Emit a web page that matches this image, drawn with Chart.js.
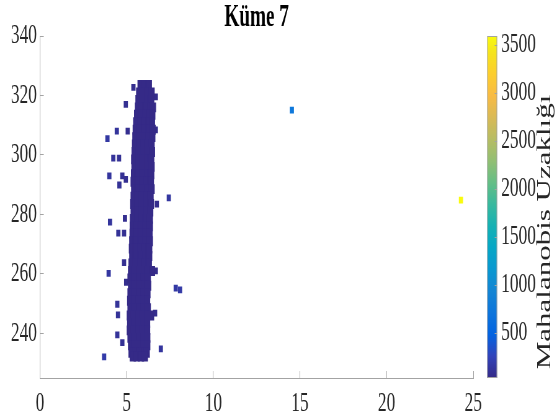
<!DOCTYPE html>
<html>
<head>
<meta charset="utf-8">
<script src="https://cdn.jsdelivr.net/npm/chart.js@4/dist/chart.umd.min.js"></script>
<style>
  html, body { margin: 0; padding: 0; background: #fff; }
  #c { display: block; width: 557px; height: 420px; }
</style>
</head>
<body>
<canvas id="c" width="898" height="420" style="width:557px;height:420px"></canvas>
<script>
// --- data ---
const chartTitle = 'Küme 7';
const cbLabel = 'Mahalanobis Uzaklığı';
const xTicks = [0, 5, 10, 15, 20, 25];
const yTicks = [240, 260, 280, 300, 320, 340];
const cbTicks = [500, 1000, 1500, 2000, 2500, 3000, 3500];
const cMin = 30, cMax = 3594;

// dense core of the cluster, one row of x values per y level
const coreY = [323.5, 321, 318.5, 316, 313.5, 311, 308.5, 306, 303.5, 301, 298.5, 296, 293.5,
  291, 288.5, 286, 283.5, 281, 278.5, 276, 273.5, 271, 268.5, 266, 263.5, 261, 258.5, 256,
  253.5, 251, 248.5, 246, 243.5, 241, 238.5, 236, 233.5, 232.2];
const coreX = [
  [5.8, 6.05, 6.28],
  [5.72, 5.95, 6.2, 6.44],
  [5.68, 5.92, 6.18, 6.42],
  [5.65, 5.88, 6.13, 6.36, 6.52],
  [5.6, 5.84, 6.1, 6.34, 6.48],
  [5.55, 5.8, 6.06, 6.3, 6.46],
  [5.52, 5.76, 6.02, 6.28, 6.5],
  [5.5, 5.74, 6.0, 6.26, 6.48],
  [5.48, 5.72, 5.98, 6.24, 6.44],
  [5.46, 5.7, 5.96, 6.22, 6.46],
  [5.43, 5.68, 5.94, 6.2, 6.42],
  [5.45, 5.68, 5.94, 6.2, 6.44],
  [5.42, 5.66, 5.92, 6.18, 6.42],
  [5.4, 5.64, 5.9, 6.16, 6.4],
  [5.43, 5.66, 5.92, 6.18, 6.44],
  [5.4, 5.63, 5.88, 6.14, 6.38],
  [5.38, 5.62, 5.88, 6.14, 6.4],
  [5.4, 5.63, 5.88, 6.14, 6.36],
  [5.36, 5.6, 5.86, 6.12, 6.34],
  [5.35, 5.58, 5.84, 6.1, 6.34],
  [5.34, 5.58, 5.84, 6.1, 6.32],
  [5.32, 5.56, 5.82, 6.08, 6.34],
  [5.3, 5.54, 5.8, 6.06, 6.3],
  [5.32, 5.56, 5.82, 6.08, 6.3],
  [5.28, 5.52, 5.78, 6.04, 6.28],
  [5.25, 5.48, 5.74, 6.0, 6.24, 6.46],
  [5.22, 5.46, 5.72, 5.98, 6.22],
  [5.25, 5.48, 5.74, 6.0, 6.24],
  [5.22, 5.46, 5.72, 5.98, 6.2],
  [5.2, 5.44, 5.7, 5.96, 6.18],
  [5.22, 5.46, 5.72, 5.98, 6.22],
  [5.18, 5.42, 5.68, 5.94, 6.18, 6.41],
  [5.2, 5.44, 5.7, 5.96, 6.18],
  [5.18, 5.42, 5.68, 5.94, 6.18],
  [5.22, 5.46, 5.72, 5.98, 6.19],
  [5.25, 5.48, 5.73, 5.98, 6.19],
  [5.28, 5.51, 5.76, 6.01, 6.16],
  [5.35, 5.58, 5.83, 6.05]
];
const coreDist = 30;

// scattered points around the core plus the two far ones
const outX = [5.39, 4.95, 4.43, 5.06, 3.89, 4.23, 4.56, 4.0, 4.75, 4.95, 4.58, 7.43, 4.04, 4.9,
  4.52, 4.85, 4.85, 3.96, 4.97, 7.83, 8.08, 4.46, 4.5, 4.46, 4.75, 3.7, 6.97, 6.68, 6.64,
  6.68, 6.68, 6.74, 14.53, 24.29];
const outY = [322.7, 317, 308, 308, 305.5, 298.9, 298.9, 293, 293, 291.8, 289.9, 285.6, 277.4, 278.7,
  273.7, 273.7, 263.8, 260.2, 257.2, 255.2, 254.6, 249.8, 246.2, 239.5, 236.9, 232.1, 234.8, 261,
  246.8, 319.5, 308.4, 283.5, 315.1, 284.8];
const outDist = [60, 80, 120, 70, 150, 110, 90, 130, 85, 75, 95, 140, 125, 70,
  100, 80, 75, 140, 60, 160, 170, 105, 100, 110, 90, 180, 130, 50,
  55, 50, 50, 55, 750, 3594];

// parula colour map
const parula = [
  [0.2081, 0.1663, 0.5292], [0.1959, 0.2645, 0.7279], [0.0117, 0.3875, 0.8820],
  [0.0498, 0.4586, 0.8641], [0.0793, 0.5200, 0.8312], [0.0343, 0.5966, 0.8199],
  [0.0228, 0.6535, 0.7768], [0.0843, 0.6928, 0.7062], [0.2178, 0.7250, 0.6193],
  [0.3953, 0.7459, 0.5244], [0.5709, 0.7485, 0.4494], [0.7184, 0.7411, 0.3905],
  [0.8507, 0.7299, 0.3360], [0.9739, 0.7314, 0.2666], [0.9880, 0.8066, 0.1794],
  [0.9589, 0.8949, 0.1132], [0.9763, 0.9831, 0.0538]
];
const stopT = [0, 4, 8, 12, 16, 20, 24, 28, 32, 36, 40, 44, 48, 52, 56, 60, 63].map(i => i / 63);

function parulaColor(t) {
  t = Math.max(0, Math.min(1, t));
  let i = 0;
  while (i < stopT.length - 2 && t > stopT[i + 1]) i++;
  const f = (t - stopT[i]) / (stopT[i + 1] - stopT[i]);
  const c = parula[i].map((v, k) => Math.round(255 * (v + (parula[i + 1][k] - v) * f)));
  return `rgb(${c[0]},${c[1]},${c[2]})`;
}
const distColor = c => parulaColor(((c.raw ? c.raw.d : cMin) - cMin) / (cMax - cMin));

const corePoints = [];
coreY.forEach((y, r) => coreX[r].forEach(x => corePoints.push({ x, y, d: coreDist })));
const outPoints = outX.map((x, i) => ({ x, y: outY[i], d: outDist[i] }));

const FONT = 'Liberation Serif';
const AXIS = '#a3a3a3';
const TXT = '#262626';

// title, colour bar and its label
const extras = {
  id: 'extras',
  afterDraw(chart) {
    const { ctx, chartArea } = chart;
    const cb = chart.scales.cb;
    const top = cb.getPixelForValue(cMax), bottom = cb.getPixelForValue(cMin);
    const left = chartArea.right + 22.5, w = 16;
    const g = ctx.createLinearGradient(0, bottom, 0, top);
    parula.forEach((c, i) => g.addColorStop(stopT[i], `rgb(${c.map(v => Math.round(v * 255)).join(',')})`));
    ctx.save();
    ctx.fillStyle = '#000';
    ctx.font = `bold 31px "${FONT}"`;
    ctx.textAlign = 'center';
    ctx.textBaseline = 'alphabetic';
    ctx.fillText(chartTitle, (chartArea.left + chartArea.right) / 2, 26);

    ctx.fillStyle = g;
    ctx.fillRect(left, top, w, bottom - top);
    ctx.strokeStyle = AXIS;
    ctx.lineWidth = 1;
    ctx.strokeRect(left + 0.5, top + 0.5, w - 1, bottom - top - 1);
    cbTicks.forEach(v => {
      const y = Math.round(cb.getPixelForValue(v)) + 0.5;
      ctx.beginPath();
      ctx.moveTo(left + w - 4, y); ctx.lineTo(left + w, y);
      ctx.stroke();
    });
    ctx.translate(chartArea.right + 116, 232);
    ctx.rotate(-Math.PI / 2);
    ctx.fillStyle = TXT;
    ctx.font = `31px "${FONT}"`;
    ctx.textAlign = 'center';
    ctx.textBaseline = 'middle';
    ctx.fillText(cbLabel, 0, 0);
    ctx.restore();
  }
};

new Chart(document.getElementById('c'), {
  type: 'scatter',
  data: {
    datasets: [{
      data: corePoints,
      pointStyle: 'rect',
      pointRadius: 7,
      pointBorderWidth: 0,
      backgroundColor: distColor
    }, {
      data: outPoints,
      pointStyle: 'rect',
      pointRadius: 4.8,
      pointBorderWidth: 0,
      backgroundColor: distColor
    }]
  },
  options: {
    responsive: false,
    devicePixelRatio: 1,
    animation: false,
    layout: { padding: { top: 36, left: 0, right: 0, bottom: 0 } },
    plugins: {
      legend: { display: false },
      tooltip: { enabled: false },
      title: { display: false }
    },
    scales: {
      x: {
        type: 'linear',
        min: 0, max: 25,
        afterBuildTicks: s => { s.ticks = xTicks.map(v => ({ value: v })); },
        afterFit: s => { s.height = 42; },
        ticks: { font: { family: FONT, size: 28 }, color: TXT, padding: 16, maxRotation: 0 },
        grid: { drawOnChartArea: false, tickLength: -7, color: AXIS },
        border: { color: AXIS }
      },
      y: {
        type: 'linear',
        min: 225, max: 340,
        afterBuildTicks: s => { s.ticks = yTicks.map(v => ({ value: v })); },
        afterFit: s => { s.width = 64.5; },
        ticks: { font: { family: FONT, size: 28 }, color: TXT, padding: 11 },
        grid: { drawOnChartArea: false, tickLength: -6, color: AXIS },
        border: { color: AXIS }
      },
      cb: {
        type: 'linear',
        position: 'right',
        min: cMin, max: cMax,
        afterBuildTicks: s => { s.ticks = cbTicks.map(v => ({ value: v })); },
        afterFit: s => { s.width = 135; },
        ticks: { font: { family: FONT, size: 28 }, color: TXT, padding: 0, callback: v => String(v) },
        grid: { display: true, drawOnChartArea: false, drawTicks: true, tickLength: 45, color: 'rgba(0,0,0,0)' },
        border: { display: false }
      }
    }
  },
  plugins: [extras]
});
</script>
</body>
</html>
